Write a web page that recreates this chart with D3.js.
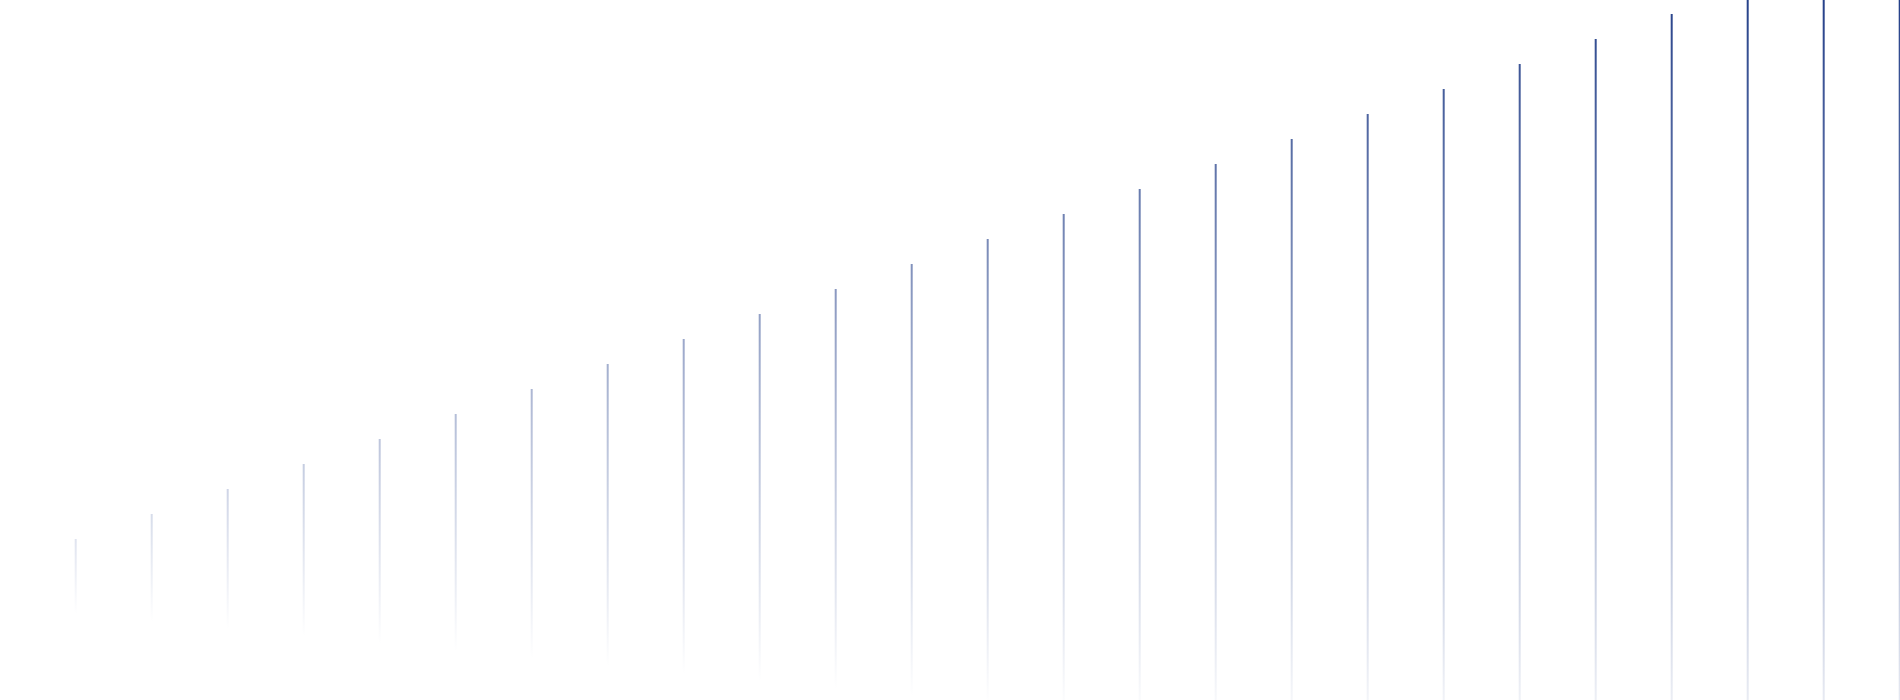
<!DOCTYPE html>
<html>
<head>
<meta charset="utf-8">
<script src="https://cdn.jsdelivr.net/npm/d3@7/dist/d3.min.js"></script>
<style>
  html, body { margin: 0; padding: 0; background: #ffffff; overflow: hidden; }
  svg { display: block; }
</style>
</head>
<body>
<svg id="chart" width="1900" height="700"></svg>
<script>
const categories = ["1","2","3","4","5","6","7","8","9","10","11","12","13","14","15","16","17","18","19","20","21","22","23","24","25"];
const highs = [10,11,12,13,14,15,16,17,18,19,20,21,22,23,24,25,26,27,28,29,30,31,32,33,34];
const lows = [7.0,6.7,6.4,6.1,5.8,5.5,5.2,4.9,4.6,4.3,4.0,3.7,3.4,3.1,2.8,2.5,2.2,1.9,1.6,1.3,1.0,0.7,0.4,0.1,-0.2];

const svg = d3.select("#chart");

const x = d3.scalePoint().domain(categories).range([75.7, 1899.7]).padding(0);
const y = d3.scaleLinear().domain([0, 34]).range([789, 789 - 34 * 25]);
const color = d3.scaleLinear().domain([10, 34]).range(["#dfe3ef", "#12307f"]).interpolate(d3.interpolateRgb);

const defs = svg.append("defs");
const data = categories.map((c, i) => ({ c, hi: highs[i], lo: lows[i], i }));

const grads = defs.selectAll("linearGradient").data(data).join("linearGradient")
  .attr("id", d => "g" + d.i)
  .attr("gradientUnits", "userSpaceOnUse")
  .attr("x1", 0).attr("x2", 0)
  .attr("y1", d => y(d.hi)).attr("y2", d => y(d.lo));
grads.append("stop").attr("offset", 0).attr("stop-color", d => color(d.hi)).attr("stop-opacity", 1);
grads.append("stop").attr("offset", 1).attr("stop-color", d => color(d.hi)).attr("stop-opacity", 0);

svg.append("g").selectAll("line").data(data).join("line")
  .attr("x1", d => x(d.c)).attr("x2", d => x(d.c))
  .attr("y1", d => y(d.hi)).attr("y2", d => y(d.lo))
  .attr("stroke", d => `url(#g${d.i})`)
  .attr("stroke-width", 2);
</script>
</body>
</html>
